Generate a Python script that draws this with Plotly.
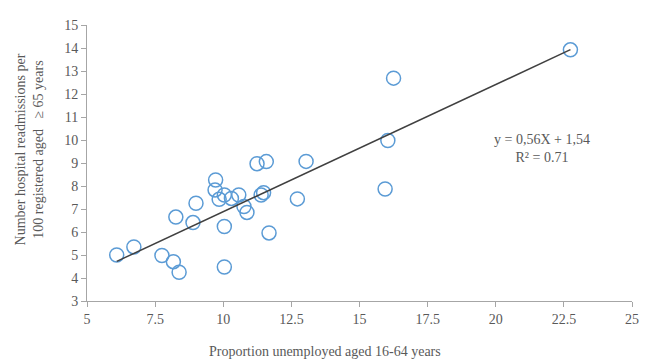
import numpy as np
import plotly.graph_objects as go

unemployed = [6.09, 6.72, 7.75, 8.17, 8.38, 8.26, 8.89, 9.00, 9.72, 9.70, 9.85, 10.04, 10.04, 10.04,
              10.30, 10.57, 10.76, 10.87, 11.24, 11.58, 11.39, 11.48, 11.68, 12.72, 13.04, 15.94,
              16.04, 16.25, 22.74]
readmissions = [5.0, 5.35, 4.98, 4.71, 4.25, 6.65, 6.41, 7.25, 8.26, 7.83, 7.42, 7.61, 6.24, 4.48,
                7.46, 7.61, 7.11, 6.85, 8.97, 9.06, 7.61, 7.71, 5.96, 7.44, 9.07, 7.87,
                9.98, 12.69, 13.92]
x_ticks = [5, 7.5, 10, 12.5, 15, 17.5, 20, 22.5, 25]
y_ticks = list(range(3, 16))
equation_text = "y = 0,56X + 1,54<br>R² = 0.71"
x_title = "Proportion unemployed aged 16-64 years"
y_title = "Number hospital readmissions per<br>100 registered aged   ≥ 65 years"

xa = np.array(unemployed)
ya = np.array(readmissions)
slope, intercept = np.polyfit(xa, ya, 1)
line_x = np.array([xa.min(), xa.max()])
line_y = slope * line_x + intercept

font_family = "Liberation Serif, Times New Roman, serif"
text_color = "#595959"
axis_color = "#A6A6A6"

# page body has an 8px margin; figure sized to fit inside the 649x360 window
W, H = 641, 352
OFF = 8
L, R, T, B = 79, 10, 14, 59

fig = go.Figure()
fig.add_trace(go.Scatter(
    x=unemployed, y=readmissions, mode="markers",
    marker=dict(symbol="circle-open", size=14, color="#5B9BD5", line=dict(width=1.5, color="#5B9BD5")),
    showlegend=False, hoverinfo="x+y"))
fig.add_trace(go.Scatter(
    x=line_x, y=line_y, mode="lines",
    line=dict(color="#404040", width=1.5), showlegend=False, hoverinfo="skip"))

plot_w = W - L - R
plot_h = H - T - B
def px_to_paper(px, py):
    # px, py are window (screenshot) coordinates
    return (px - OFF - L) / plot_w, (H - B - (py - OFF)) / plot_h

ex, ey = px_to_paper(548, 147)
tx, ty = px_to_paper(328, 352)
yx, yy = px_to_paper(29, 148)

fig.update_layout(
    width=W, height=H,
    margin=dict(l=L, r=R, t=T, b=B),
    paper_bgcolor="white", plot_bgcolor="white",
    font=dict(family=font_family, size=14, color=text_color),
    xaxis=dict(range=[5, 25], tickvals=x_ticks, ticktext=[str(v) for v in x_ticks],
               showgrid=False, zeroline=False, showline=True, linecolor=axis_color, linewidth=1,
               ticks="outside", ticklen=5, tickcolor=axis_color, tickfont=dict(size=14, color=text_color)),
    yaxis=dict(range=[3, 15], tickvals=y_ticks, showgrid=False, zeroline=False, showline=True,
               linecolor=axis_color, linewidth=1, ticks="outside", ticklen=5, tickcolor=axis_color,
               tickfont=dict(size=14, color=text_color)),
    annotations=[
        dict(text=equation_text, x=ex, y=ey, xref="paper", yref="paper", showarrow=False,
             xanchor="center", yanchor="middle",
             font=dict(size=14, color=text_color), align="center"),
        dict(text=x_title, x=tx, y=ty, xref="paper", yref="paper", showarrow=False,
             xanchor="center", yanchor="middle",
             font=dict(size=14, color=text_color)),
        dict(text=y_title, x=yx, y=yy, xref="paper", yref="paper", showarrow=False, textangle=-90,
             xanchor="center", yanchor="middle",
             font=dict(size=14, color=text_color), align="center"),
    ],
)

fig.write_html("out.html")
